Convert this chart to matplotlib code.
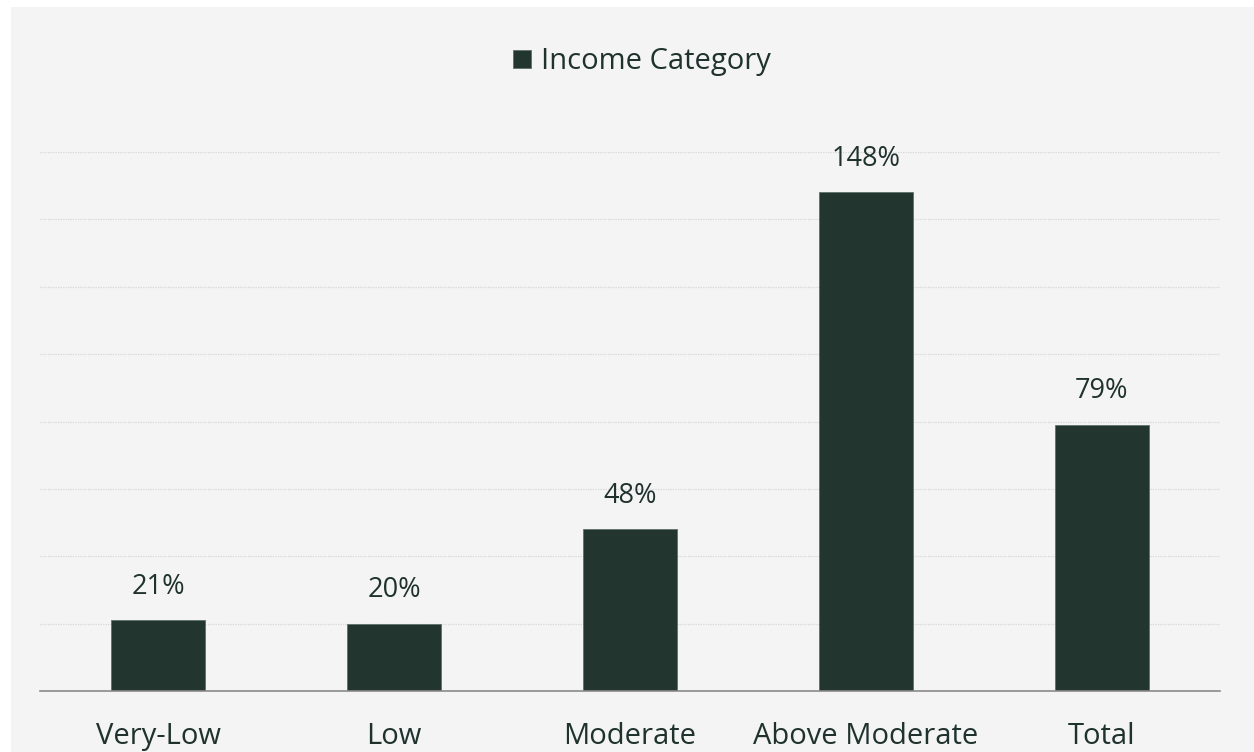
import matplotlib
matplotlib.use("Agg")
import matplotlib.pyplot as plt
from matplotlib.patches import Rectangle

# --- Données ---
categories = ["Very-Low", "Low", "Moderate", "Above Moderate", "Total"]
values     = [21, 20, 48, 148, 79]
series_name = "Income Category"

BAR_COLOR  = "#22352f"
TEXT_COLOR = "#1f322d"
BG_COLOR   = "#f4f4f4"

plt.rcParams["font.family"] = ["Open Sans", "DejaVu Sans"]

fig = plt.figure(figsize=(12.54, 7.52), dpi=100, facecolor="white")
# fond gris (petite marge blanche en haut et à gauche)
fig.patches.append(Rectangle((11 / 1254, 0), 1, 1 - 7 / 752, transform=fig.transFigure,
                             facecolor=BG_COLOR, edgecolor="none", zorder=-10))

ax = fig.add_axes([40 / 1254, 61 / 752, 1180 / 1254, 539 / 752])
ax.set_facecolor("none")

x = range(len(categories))
bars = ax.bar(x, values, width=0.4, color=BAR_COLOR, edgecolor="#5f6f6a",
              linewidth=0.6, label=series_name, zorder=3)

for b, v in zip(bars, values):
    ax.annotate(f"{v}%", (b.get_x() + b.get_width() / 2, v),
                xytext=(0, 14), textcoords="offset points",
                ha="center", va="bottom", fontsize=19.5, color=TEXT_COLOR)

ax.set_xlim(-0.5, len(categories) - 0.5)
ax.set_ylim(0, 160)
ax.set_yticks(range(20, 161, 20))
ax.yaxis.grid(True, color="#d6d6d6", linestyle=(0, (1, 1)), linewidth=0.9)
ax.tick_params(axis="y", left=False, labelleft=False)
ax.set_xticks(list(x))
ax.set_xticklabels(categories, fontsize=21, color=TEXT_COLOR)
ax.tick_params(axis="x", length=0, pad=22)

for s in ("top", "right", "left"):
    ax.spines[s].set_visible(False)
ax.spines["bottom"].set_color("#8a8a8a")
ax.spines["bottom"].set_linewidth(1.2)
ax.spines["bottom"].set_zorder(4)

leg = ax.legend(loc="center", bbox_to_anchor=(0.512, 0.918), bbox_transform=fig.transFigure,
                frameon=False, fontsize=21, handlelength=0.6, handleheight=0.6,
                handletextpad=0.35, labelcolor=TEXT_COLOR)

fig.savefig("out.png", dpi=100, facecolor=fig.get_facecolor())
